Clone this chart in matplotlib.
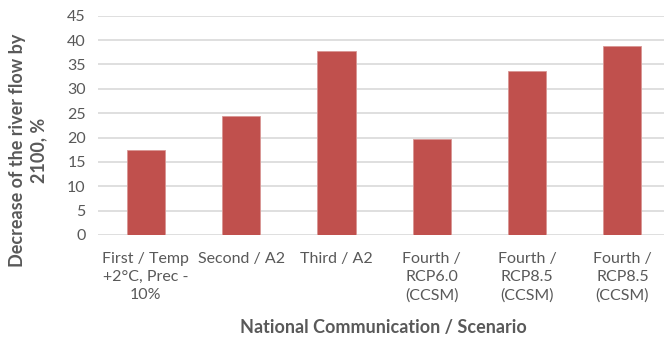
import numpy as np
import matplotlib as mpl
mpl.use('Agg')
import matplotlib.pyplot as plt

# data
categories = ['First / Temp\n+2°C, Prec -\n10%', 'Second / A2', 'Third / A2',
              'Fourth /\nRCP6.0\n(CCSM)', 'Fourth /\nRCP8.5\n(CCSM)', 'Fourth /\nRCP8.5\n(CCSM)']
decrease = [17.4, 24.4, 37.7, 19.7, 33.6, 38.8]
yticks = [0, 5, 10, 15, 20, 25, 30, 35, 40, 45]

plt.rcParams['font.family'] = ['Lato', 'DejaVu Sans']
txt = '#595959'

fig = plt.figure(figsize=(6.64, 3.43), dpi=100)
ax = fig.add_axes([0.148, 0.315, 0.861, 0.639])

x = np.arange(len(categories))
ax.bar(x, decrease, width=0.4, color='#C0504D', edgecolor='#D99694', lw=0.6, zorder=3)

ax.set_xlim(-0.5, 5.5)
ax.set_ylim(0, 45)
ax.set_yticks(yticks)
ax.set_xticks(x)
ax.set_xticklabels(categories, linespacing=1.4)
ax.yaxis.grid(True, color='#D9D9D9', lw=1.2, zorder=0)
for s in ax.spines.values():
	s.set_visible(False)
ax.tick_params(axis='both', length=0, labelsize=11.5, colors=txt)
ax.tick_params(axis='y', pad=9)
ax.tick_params(axis='x', pad=12)

fig.text(0.577, 0.044, 'National Communication / Scenario', ha='center', va='center',
	fontsize=13, fontweight='bold', color=txt)
fig.text(0.042, 0.563, 'Decrease of the river flow by\n2100, %', ha='center', va='center',
	rotation=90, multialignment='center', fontsize=13, fontweight='bold', color=txt,
	linespacing=1.3)

fig.savefig('out.png', dpi=100)
